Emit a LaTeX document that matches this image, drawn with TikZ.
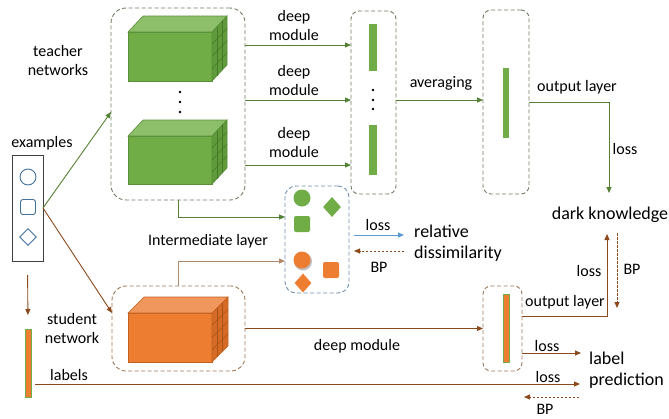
\documentclass[tikz,border=0pt]{standalone}
\usepackage{fontspec}
\setmainfont{Carlito}
\usetikzlibrary{arrows.meta,calc,shapes.geometric}
\definecolor{gline}{HTML}{548235}
\definecolor{bline}{HTML}{8C4A1C}
\definecolor{tline}{HTML}{B08A6A}
\definecolor{bluel}{HTML}{5B9BD5}
\definecolor{gfront}{HTML}{70AD47}
\definecolor{gtop}{HTML}{8DBE6A}
\definecolor{gside}{HTML}{5F9A3B}
\definecolor{ggrid}{HTML}{46782A}
\definecolor{gedge}{HTML}{5A8F38}
\definecolor{ofront}{HTML}{ED7D31}
\definecolor{otop}{HTML}{F0975E}
\definecolor{oside}{HTML}{D66B25}
\definecolor{ogrid}{HTML}{A9531A}
\definecolor{oedge}{HTML}{C2611F}
\definecolor{tbox}{HTML}{6F7D63}
\definecolor{sbox}{HTML}{9E7656}
\definecolor{ibox}{HTML}{6F8FAF}
\definecolor{exblue}{HTML}{41719C}
\newcommand\drawcube[6]{%
  \fill[#2,draw=#5,line width=0.6pt] (#1.north west) -- ++(#6,-16) -- ($(#1.north east)+(#6,-16)$) -- (#1.north east) -- cycle;
  \fill[#3,draw=#5,line width=0.6pt] (#1.north east) -- ++(#6,-16) -- ($(#1.south east)+(#6,-16)$) -- (#1.south east) -- cycle;
  \foreach \i in {1,2}{\draw[#4,line width=0.5pt] ($(#1.north east)+(#6*\i/3,-16*\i/3)$) -- ($(#1.south east)+(#6*\i/3,-16*\i/3)$);}
  \foreach \j in {1,2,3}{\draw[#4,line width=0.5pt] ($(#1.north east)!\j/4!(#1.south east)$) -- ++(#6,-16);}
}
\begin{document}
\begin{tikzpicture}[x=1pt,y=-1pt,
  txt/.style={font=\fontsize{16}{19}\selectfont, align=center, inner sep=1pt},
  bigtxt/.style={font=\fontsize{18}{21}\selectfont, align=left, inner sep=1pt},
  tip/.style={-{Triangle[length=6pt,width=5pt]}},
  garrow/.style={draw=gline, line width=0.9pt, tip},
  brarrow/.style={draw=bline, line width=0.9pt, tip},
  tarrow/.style={draw=tline, line width=0.9pt, tip},
  blarrow/.style={draw=bluel, line width=0.9pt, tip},
  bpdash/.style={draw=bline, line width=0.8pt, dash pattern=on 2.5pt off 1.5pt, tip},
  dbox/.style={line width=0.9pt, dash pattern=on 4pt off 2.5pt, inner sep=0, outer sep=0},
  gbar/.style={fill=gfront, draw=gfront, inner sep=0, minimum width=6.5, outer sep=0},
  obar/.style={fill=ofront, draw=gfront, line width=0.8pt, inner sep=0, minimum width=6, outer sep=0},
  cubefront/.style={inner sep=0, outer sep=0, line width=0.6pt, minimum width=84},
  dotn/.style={circle, fill=black, inner sep=0, minimum size=2.6},
  exshape/.style={draw=exblue, line width=0.9pt, inner sep=0},
  gshape/.style={fill=gfront, inner sep=0},
  oshape/.style={fill=ofront, inner sep=0}
]
\useasboundingbox (0,0) rectangle (669,418);
% helper coordinates
\coordinate (y45) at (0,45);
\coordinate (y100) at (0,100);
\coordinate (y165) at (0,165);
\coordinate (y112) at (0,112);
\coordinate (y313) at (0,313);
\coordinate (y217) at (0,217);
\coordinate (y261) at (0,261);
\coordinate (y316) at (0,316);
\coordinate (y353) at (0,353);
\coordinate (y384) at (0,384);
\coordinate (dktop) at (609,193);
\coordinate (dkbot) at (607,234);
\coordinate (bpa) at (617,233);
\coordinate (bpb) at (617,308);
\coordinate (lossa) at (354,235);
\coordinate (lossb) at (404,235);
\coordinate (bp1a) at (404,251);
\coordinate (bp1b) at (354,251);
\coordinate (lpa) at (581,353);
\coordinate (lpb) at (580,384);
\coordinate (bp2a) at (579,397);
\coordinate (bp2b) at (524,397);
% boxes
\node[dbox, draw=tbox, rounded corners=15pt, minimum width=134, minimum height=192] (teacher) at (178,104) {};
\node[dbox, draw=tbox, rounded corners=8pt, minimum width=45, minimum height=183] (vec) at (373.5,102.5) {};
\node[dbox, draw=tbox, rounded corners=8pt, minimum width=46, minimum height=184] (avg) at (506,102) {};
\node[dbox, draw=ibox, rounded corners=11pt, minimum width=64, minimum height=107] (inter) at (317,239.5) {};
\node[dbox, draw=sbox, rounded corners=14pt, minimum width=133, minimum height=85] (student) at (178.5,328.5) {};
\node[dbox, draw=sbox, rounded corners=8pt, minimum width=39, minimum height=85] (sout) at (502.5,328.5) {};
\node[draw=black!75, line width=0.8pt, minimum width=31, minimum height=106, inner sep=0, outer sep=0] (ex) at (27.5,208) {};
% cubes
\node[cubefront, fill=gfront, draw=gedge, minimum height=49] (tc1) at (170,56.5) {};
\drawcube{tc1}{gtop}{gside}{ggrid}{gedge}{15}
\node[cubefront, fill=gfront, draw=gedge, minimum height=48] (tc2) at (170,160) {};
\drawcube{tc2}{gtop}{gside}{ggrid}{gedge}{15}
\node[cubefront, fill=ofront, draw=oedge, minimum height=49] (sc) at (170,337.5) {};
\drawcube{sc}{otop}{oside}{ogrid}{oedge}{16}
% dots
\node[dotn] (d1) at (180,92) {};
\node[dotn] (d2) at (180,102) {};
\node[dotn] (d3) at (180,112) {};
\node[dotn] (d4) at (373,90) {};
\node[dotn] (d5) at (373,100) {};
\node[dotn] (d6) at (373,109) {};
% bars
\node[gbar, minimum height=46] (b1) at (372.5,47) {};
\node[gbar, minimum height=49] (b2) at (372.5,149.5) {};
\node[gbar, minimum height=69, minimum width=5.5] (b3) at (505.5,102.5) {};
\node[obar, minimum height=68] (b4) at (506,328) {};
\node[obar, minimum height=68] (lab) at (28,363) {};
% example shapes
\node[exshape, circle, minimum size=16] (exc) at (28,177) {};
\node[exshape, rounded corners=2.5pt, minimum size=15] (exs) at (28,207) {};
\node[exshape, diamond, minimum width=17, minimum height=17] (exd) at (28,237) {};
% intermediate shapes
\node[gshape, circle, minimum size=17] (gc) at (302,198) {};
\node[gshape, diamond, minimum width=18, minimum height=20] (gd) at (332,207) {};
\node[gshape, rounded corners=2pt, minimum size=16] (gs) at (302,224) {};
\node[circle, fill=black!25, inner sep=0, minimum size=18] (oshad) at (303,261.5) {};
\node[oshape, circle, minimum size=17] (oc) at (302,260) {};
\node[oshape, rounded corners=2pt, minimum size=16] (os) at (331,270) {};
\node[oshape, diamond, minimum width=17, minimum height=19] (od) at (303,283) {};
% connectors
\draw[garrow] (teacher.east |- y45) -- (vec.west |- y45);
\draw[garrow] (teacher.east |- y100) -- (vec.west |- y100);
\draw[garrow] (teacher.east |- y165) -- (vec.west |- y165);
\draw[garrow] (vec.east |- y100) -- (avg.west |- y100);
\draw[garrow] (avg.east) -| (dktop);
\draw[garrow] (ex.east) -- (teacher.west |- y112);
\draw[brarrow] (ex.east) -- (student.west |- y313);
\draw[brarrow, shorten <=14pt, shorten >=14pt] (ex.south) -- (lab.north);
\draw[garrow] (teacher.south) |- (inter.west |- y217);
\draw[tarrow] (student.north) |- (inter.west |- y261);
\draw[brarrow] (student.east) -- (sout.west);
\draw[brarrow] (sout.east |- y316) -| (dkbot);
\draw[bpdash] (bpa) -- (bpb);
\draw[brarrow] (sout.east |- y353) -- (lpa);
\draw[brarrow, shorten <=4pt] (lab.east |- y384) -- (lpb);
\draw[bpdash] (bp2a) -- (bp2b);
\draw[blarrow] (lossa) -- (lossb);
\draw[bpdash] (bp1a) -- (bp1b);
% labels
\node[txt] (lteach) at (58,61) {teacher\\networks};
\node[txt] (lex) at (42,143) {examples};
\node[txt] (lstud) at (72,328) {student\\network};
\node[txt] (llab) at (69,375) {labels};
\node[txt] (linter) at (208,241) {Intermediate layer};
\node[txt] (ldm1) at (294,26) {deep\\module};
\node[txt] (ldm2) at (294,80.5) {deep\\module};
\node[txt] (ldm3) at (294,142.5) {deep\\module};
\node[txt] (lavg) at (441,83) {averaging};
\node[txt] (lout1) at (577,87) {output layer};
\node[txt] (lloss1) at (625,149) {loss};
\node[bigtxt] (dk) at (610,215) {dark knowledge};
\node[txt] (lloss2) at (378,225) {loss};
\node[txt] (lbp1) at (379,267) {BP};
\node[bigtxt, anchor=west] (rel) at (413,243.5) {relative\\dissimilarity};
\node[txt] (lloss3) at (589,271) {loss};
\node[txt] (lbp2) at (632,269) {BP};
\node[txt] (lout2) at (565,302) {output layer};
\node[txt] (ldm4) at (357,346) {deep module};
\node[txt] (lloss4) at (547,346) {loss};
\node[txt] (lloss5) at (548,377) {loss};
\node[txt] (lbp3) at (545,409) {BP};
\node[bigtxt, anchor=west] (lp) at (588,370) {label\\prediction};
\end{tikzpicture}
\end{document}
